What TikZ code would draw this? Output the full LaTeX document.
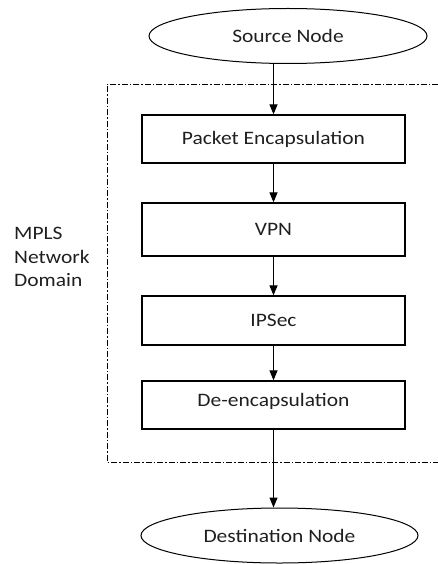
\documentclass[tikz,border=0pt]{standalone}
\usepackage{fontspec}
\setmainfont{Carlito}[FakeStretch=1.13]
\usetikzlibrary{shapes.geometric,arrows.meta}
\begin{document}
\begin{tikzpicture}[x=1pt,y=-1pt,
  every node/.style={font={\fontsize{19}{23.5}\selectfont}, text=black!88},
  endpoint/.style={draw, ellipse, line width=1pt, inner sep=0pt,
                   minimum width=#1, minimum height=55pt},
  stepbox/.style={draw, rectangle, line width=1.3pt, inner sep=0pt,
                  minimum width=263pt, minimum height=#1},
  flow/.style={line width=1.2pt, -{Triangle[length=10pt,width=8pt]}},
  frameline/.style={line width=0.9pt, dash pattern=on 6pt off 2pt on 1.5pt off 2pt}
]
\useasboundingbox (0,0) rectangle (438,564);

% MPLS domain frame (open on the right, runs off the page)
\draw[frameline] (438,84) -- (107,84) -- (107,462) -- (438,462);
\node[anchor=west, align=left, inner sep=0pt] (dlabel) at (14,257)
  {MPLS\\Network\\Domain};

% end points
\node[endpoint=278pt] (src) at (288,36) {Source Node};
\node[endpoint=277pt] (dst) at (279.5,535.5) {Destination Node};

% processing steps
\node[stepbox=48pt] (b1) at (273.5,139) {Packet Encapsulation};
\node[stepbox=53pt] (b2) at (273.5,229.5) {VPN};
\node[stepbox=49pt] (b3) at (273.5,320.5) {IPSec};
\node[stepbox=48pt, text depth=10pt] (b4) at (273.5,405) {De-encapsulation};

% connectors
\draw[flow] (b1.north |- src.south) -- (b1.north);
\draw[flow] (b1) -- (b2);
\draw[flow] (b2) -- (b3);
\draw[flow] (b3) -- (b4);
\draw[flow] (b4.south) -- (b4.south |- dst.north);
\end{tikzpicture}
\end{document}
